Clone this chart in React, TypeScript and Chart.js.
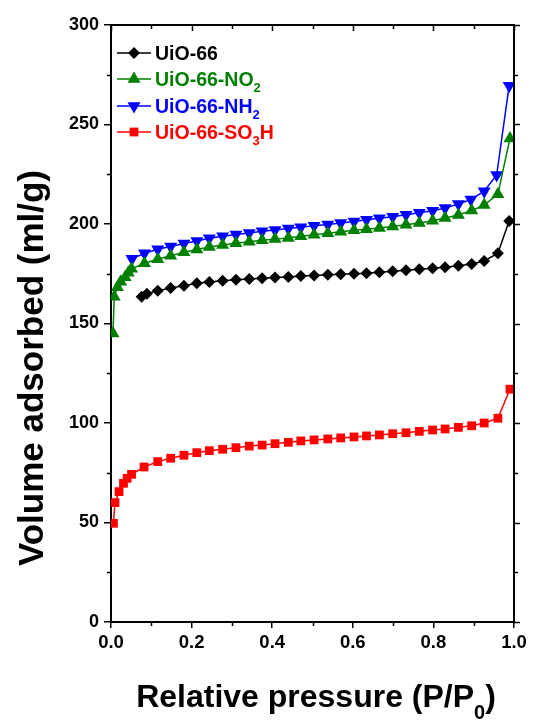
import React, { useEffect, useRef } from 'react';
import { Chart, registerables } from 'chart.js';

Chart.register(...registerables);

const FONT = '"Liberation Sans", Arial, Helvetica, sans-serif';

// x tick values and y tick values
const xTickValues = [0, 0.2, 0.4, 0.6, 0.8, 1.0];
const xMinorValues = [0.1, 0.3, 0.5, 0.7, 0.9];
const yTickValues = [0, 50, 100, 150, 200, 250, 300];
const yMinorValues = [25, 75, 125, 175, 225, 275];

// UiO-66 (black diamonds)
const uio66X = [0.076, 0.089, 0.116, 0.148, 0.181, 0.213, 0.244, 0.277, 0.310, 0.343, 0.375, 0.407, 0.440, 0.471, 0.504, 0.538, 0.570, 0.603, 0.634, 0.666, 0.699, 0.732, 0.765, 0.798, 0.829, 0.862, 0.895, 0.926, 0.960, 0.988];
const uio66Y = [163.5, 165, 166.5, 167.8, 169, 170.2, 170.9, 171.5, 172, 172.4, 172.8, 173.1, 173.4, 173.9, 174.1, 174.5, 174.8, 175, 175.3, 175.7, 176.3, 176.8, 177.3, 177.8, 178.3, 179, 179.9, 181.4, 185.3, 201.5];

// UiO-66-NO2 (green up-triangles)
const no2X = [0.005, 0.008, 0.016, 0.024, 0.035, 0.043, 0.051, 0.083, 0.116, 0.148, 0.181, 0.213, 0.244, 0.277, 0.310, 0.343, 0.375, 0.407, 0.440, 0.471, 0.504, 0.538, 0.570, 0.603, 0.634, 0.666, 0.699, 0.732, 0.765, 0.798, 0.829, 0.862, 0.895, 0.926, 0.960, 0.990];
const no2Y = [145, 163.5, 168.2, 171, 173.2, 175.5, 177.5, 180.3, 182.3, 184, 185.8, 187.2, 188.4, 189.4, 190.3, 191.1, 191.8, 192.4, 193, 193.8, 194.6, 195.4, 196.1, 196.8, 197.4, 198, 198.8, 199.6, 200.5, 201.6, 203, 204.5, 206.8, 209.5, 215, 243];

// UiO-66-NH2 (blue down-triangles)
const nh2X = [0.052, 0.083, 0.116, 0.148, 0.181, 0.213, 0.244, 0.277, 0.310, 0.343, 0.375, 0.407, 0.440, 0.471, 0.504, 0.538, 0.570, 0.603, 0.634, 0.666, 0.699, 0.732, 0.765, 0.798, 0.829, 0.862, 0.893, 0.926, 0.957, 0.988];
const nh2Y = [182.5, 185.3, 187.3, 188.7, 190.2, 191.5, 192.8, 193.8, 194.7, 195.5, 196.3, 197, 197.7, 198.4, 199.1, 199.8, 200.5, 201.3, 202.1, 202.9, 203.7, 204.6, 205.6, 206.6, 208, 210, 212.3, 216.5, 224.6, 269.5];

// UiO-66-SO3H (red squares)
const so3hX = [0.006, 0.010, 0.020, 0.031, 0.040, 0.051, 0.082, 0.116, 0.148, 0.181, 0.213, 0.244, 0.277, 0.310, 0.343, 0.375, 0.407, 0.440, 0.471, 0.504, 0.538, 0.570, 0.603, 0.634, 0.666, 0.699, 0.732, 0.765, 0.798, 0.829, 0.862, 0.895, 0.926, 0.960, 0.990];
const so3hY = [49.6, 60, 65.5, 69.7, 72.2, 74.2, 77.9, 80.6, 82.3, 83.8, 85.1, 86.1, 86.8, 87.6, 88.4, 88.9, 89.6, 90.3, 91, 91.5, 92, 92.5, 93, 93.5, 94, 94.6, 95.1, 95.8, 96.5, 97, 97.8, 98.6, 100, 102.4, 117];

const seriesColors = ['#000000', '#008000', '#0000ff', '#ff0000'];
const seriesStyles = ['rectRot', 'triangle', 'triangle', 'rect'];
const seriesRotation = [0, 0, 180, 0];
const seriesRadius = [6, 7.5, 7.5, 6.2];
const seriesLabels: { t: string; sub?: boolean }[][] = [
  [{ t: 'UiO-66' }],
  [{ t: 'UiO-66-NO' }, { t: '2', sub: true }],
  [{ t: 'UiO-66-NH' }, { t: '2', sub: true }],
  [{ t: 'UiO-66-SO' }, { t: '3', sub: true }, { t: 'H' }],
];

const toPoints = (xs: number[], ys: number[]) => xs.map((x, i) => ({ x, y: ys[i] }));

function drawMarker(ctx: CanvasRenderingContext2D, kind: number, x: number, y: number) {
  ctx.beginPath();
  const r = seriesRadius[kind];
  if (kind === 0) {
    ctx.moveTo(x, y - r); ctx.lineTo(x + r, y); ctx.lineTo(x, y + r); ctx.lineTo(x - r, y);
  } else if (kind === 1 || kind === 2) {
    const s = kind === 1 ? 1 : -1;
    ctx.moveTo(x, y - s * r);
    ctx.lineTo(x + r * 0.866, y + s * r * 0.5);
    ctx.lineTo(x - r * 0.866, y + s * r * 0.5);
  } else {
    const h = r * Math.SQRT1_2;
    ctx.rect(x - h, y - h, 2 * h, 2 * h);
  }
  ctx.closePath();
  ctx.fill();
}

function drawRich(ctx: CanvasRenderingContext2D, parts: { t: string; sub?: boolean }[], x: number, y: number, size: number, subSize: number, subDrop: number, align: 'left' | 'center') {
  const widths = parts.map(p => {
    ctx.font = `bold ${p.sub ? subSize : size}px ${FONT}`;
    return ctx.measureText(p.t).width;
  });
  const total = widths.reduce((a, b) => a + b, 0);
  let cx = align === 'center' ? x - total / 2 : x;
  ctx.textAlign = 'left';
  ctx.textBaseline = 'alphabetic';
  parts.forEach((p, i) => {
    ctx.font = `bold ${p.sub ? subSize : size}px ${FONT}`;
    ctx.fillText(p.t, cx, p.sub ? y + subDrop : y);
    cx += widths[i];
  });
}

const decorPlugin = {
  id: 'decor',
  afterDraw(chart: any) {
    const { ctx, chartArea: a, scales } = chart;
    const xs = scales.x;
    const ys = scales.y;
    ctx.save();
    ctx.strokeStyle = '#000';
    ctx.lineWidth = 2;
    ctx.beginPath();
    ctx.moveTo(a.left - 1, a.top);
    ctx.lineTo(a.right, a.top);
    ctx.lineTo(a.right, a.bottom + 1);
    ctx.stroke();

    ctx.lineWidth = 1.5;
    ctx.beginPath();
    xMinorValues.forEach(v => {
      const px = Math.round(xs.getPixelForValue(v)) + 0.5;
      ctx.moveTo(px, a.bottom); ctx.lineTo(px, a.bottom + 4);
      ctx.moveTo(px, a.top); ctx.lineTo(px, a.top + 4);
    });
    xTickValues.forEach(v => {
      const px = Math.round(xs.getPixelForValue(v)) + 0.5;
      ctx.moveTo(px, a.top); ctx.lineTo(px, a.top + 6);
    });
    yMinorValues.forEach(v => {
      const py = Math.round(ys.getPixelForValue(v)) + 0.5;
      ctx.moveTo(a.left, py); ctx.lineTo(a.left - 4, py);
      ctx.moveTo(a.right, py); ctx.lineTo(a.right + 4, py);
    });
    yTickValues.forEach(v => {
      const py = Math.round(ys.getPixelForValue(v)) + 0.5;
      ctx.moveTo(a.right, py); ctx.lineTo(a.right + 6, py);
    });
    ctx.stroke();

    // Legend
    const rowY = [53, 79, 106, 132];
    seriesLabels.forEach((parts, i) => {
      ctx.strokeStyle = seriesColors[i];
      ctx.fillStyle = seriesColors[i];
      ctx.lineWidth = 1.5;
      ctx.beginPath();
      ctx.moveTo(117, rowY[i]);
      ctx.lineTo(151, rowY[i]);
      ctx.stroke();
      drawMarker(ctx, i, 134, rowY[i]);
      drawRich(ctx, parts, 155, rowY[i] + 7, 19.5, 13, 6, 'left');
    });

    // Axis titles
    ctx.fillStyle = '#000';
    drawRich(ctx, [{ t: 'Relative pressure (P/P' }, { t: '0', sub: true }, { t: ')' }], 316, 707, 32, 20, 12, 'center');
    ctx.save();
    ctx.translate(43, 368);
    ctx.rotate(-Math.PI / 2);
    ctx.font = `bold 35px ${FONT}`;
    ctx.textAlign = 'center';
    ctx.textBaseline = 'alphabetic';
    ctx.fillText('Volume adsorbed (ml/g)', 0, 0);
    ctx.restore();
    ctx.restore();
  },
};

export default function App() {
  const ref = useRef<HTMLCanvasElement | null>(null);
  useEffect(() => {
    document.body.style.margin = '0';
    if (!ref.current) return;
    const sets = [
      { label: 'UiO-66', data: toPoints(uio66X, uio66Y) },
      { label: 'UiO-66-NO2', data: toPoints(no2X, no2Y) },
      { label: 'UiO-66-NH2', data: toPoints(nh2X, nh2Y) },
      { label: 'UiO-66-SO3H', data: toPoints(so3hX, so3hY) },
    ].map((d, i) => ({
      ...d,
      borderColor: seriesColors[i],
      backgroundColor: seriesColors[i],
      pointBackgroundColor: seriesColors[i],
      pointBorderColor: seriesColors[i],
      pointBorderWidth: 0,
      pointStyle: seriesStyles[i] as any,
      pointRotation: seriesRotation[i],
      pointRadius: seriesRadius[i],
      borderWidth: 1.5,
      tension: 0,
      fill: false,
    }));
    const chart = new Chart(ref.current, {
      type: 'line',
      data: { datasets: sets as any },
      options: {
        animation: false,
        responsive: false,
        devicePixelRatio: 1,
        layout: { padding: { top: 25, right: 21, left: 0, bottom: 0 } },
        plugins: { legend: { display: false }, tooltip: { enabled: false } },
        scales: {
          x: {
            type: 'linear',
            min: 0,
            max: 1,
            afterFit: (s: any) => { s.height = 100; },
            afterBuildTicks: (s: any) => { s.ticks = xTickValues.map(v => ({ value: v })); },
            ticks: {
              color: '#000',
              font: { family: FONT, size: 18.5, weight: 'bold' },
              padding: 4,
              maxRotation: 0,
              callback: (v: any) => Number(v).toFixed(1),
            },
            grid: { drawOnChartArea: false, drawTicks: true, tickLength: 6, color: '#000', lineWidth: 1.5 },
            border: { color: '#000', width: 2 },
          },
          y: {
            type: 'linear',
            min: 0,
            max: 300,
            afterFit: (s: any) => { s.width = 111; },
            afterBuildTicks: (s: any) => { s.ticks = yTickValues.map(v => ({ value: v })); },
            ticks: {
              color: '#000',
              font: { family: FONT, size: 18, weight: 'bold' },
              padding: 5,
              callback: (v: any) => String(v),
            },
            grid: { drawOnChartArea: false, drawTicks: true, tickLength: 7, color: '#000', lineWidth: 1.5 },
            border: { color: '#000', width: 2 },
          },
        },
      },
      plugins: [decorPlugin],
    });
    return () => chart.destroy();
  }, []);
  return (
    <div style={{ position: 'absolute', left: 0, top: 0, width: 535, height: 722, background: '#fff' }}>
      <canvas ref={ref} width={535} height={722} style={{ width: 535, height: 722, display: 'block' }} />
    </div>
  );
}
